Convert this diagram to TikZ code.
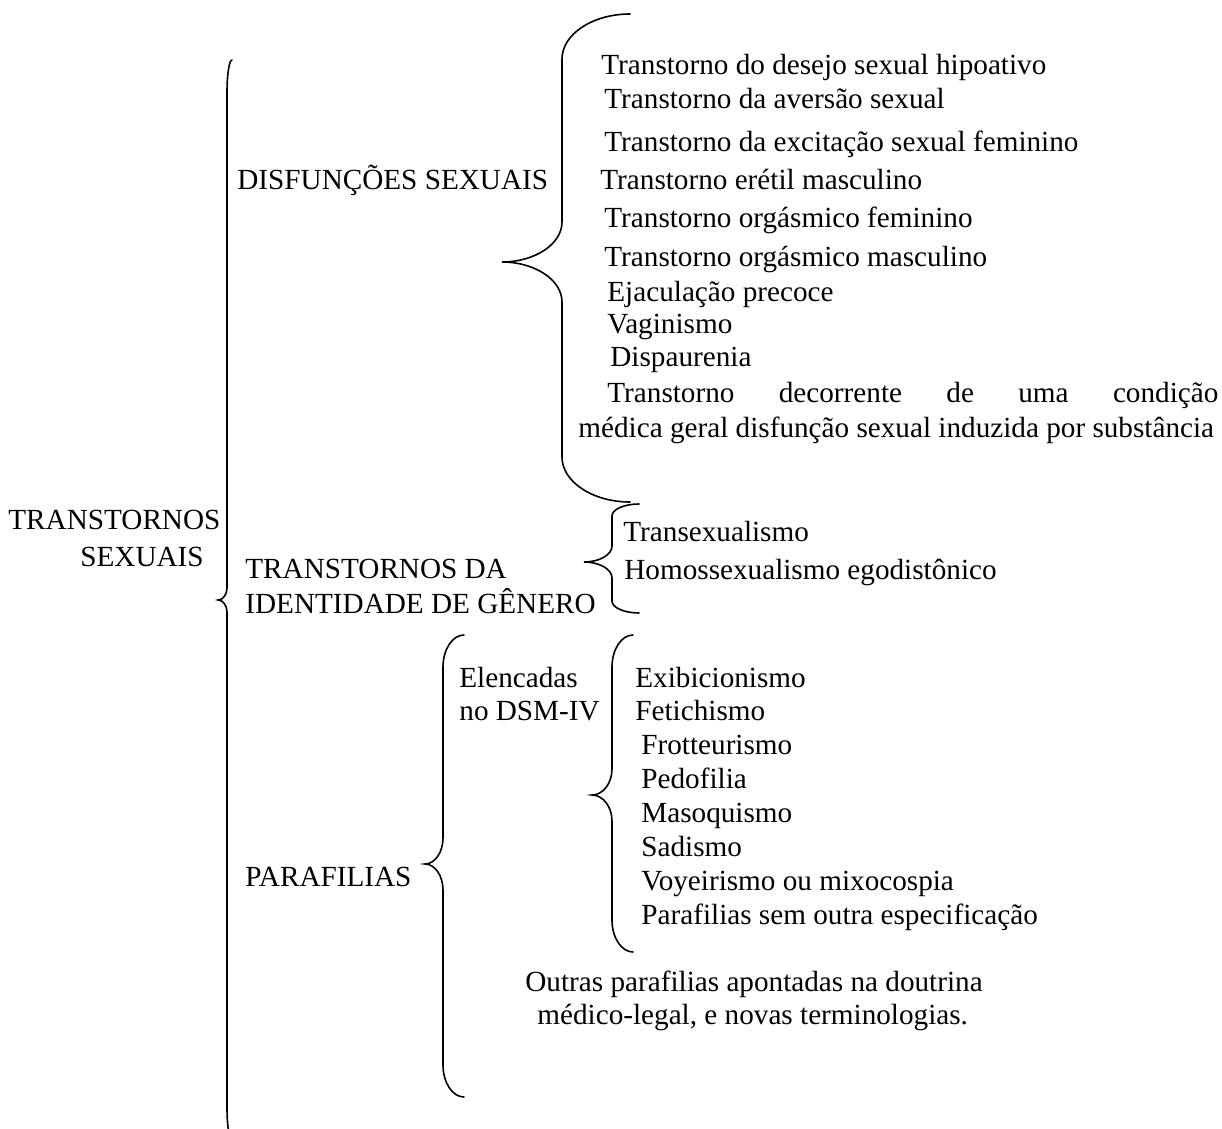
\documentclass[tikz,border=0pt]{standalone}
\usepackage{fontspec}
\setmainfont{Liberation Serif}

% brace: x of the stem, y top, y tip, y bottom, end width, corner height, tip width, tip half height
\newcommand{\chave}[8]{%
\draw[chaveline] (#1+#5,#2) .. controls (#1+0.45*#5,#2) and (#1,#2+0.45*#6) .. (#1,#2+#6)
  -- (#1,#3-#8) .. controls (#1,#3-0.45*#8) and (#1-0.45*#7,#3) .. (#1-#7,#3)
  .. controls (#1-0.45*#7,#3) and (#1,#3+0.45*#8) .. (#1,#3+#8)
  -- (#1,#4-#6) .. controls (#1,#4-0.45*#6) and (#1+0.45*#5,#4) .. (#1+#5,#4);}

\tikzset{
  rotulo/.style={anchor=west, inner sep=0pt, font=\fontsize{14.6}{17}\selectfont,
    text height=0.66em, text depth=0pt},
  chaveline/.style={line width=0.8pt, line cap=round}
}

\begin{document}
\begin{tikzpicture}[x=0.5pt,y=-0.5pt]
\useasboundingbox (0,0) rectangle (1222,1129);

% first level
\node[rotulo] (trans) at (8,523) {TRANSTORNOS};
\node[rotulo] (sexuais) at (80,560) {SEXUAIS};
\chave{227}{60}{600}{1140}{5}{32}{9}{12}

% second level
\node[rotulo] (disf) at (237,183) {DISFUNÇÕES SEXUAIS};
\node[rotulo] (ident1) at (245,572) {TRANSTORNOS DA};
\node[rotulo] (ident2) at (245,607) {IDENTIDADE DE GÊNERO};
\node[rotulo] (paraf) at (245,880) {PARAFILIAS};

% disfuncoes
\chave{562}{14}{262}{502}{68}{45}{60}{40}
\foreach \nome/\x/\y/\texto in {
  d1/601/68/Transtorno do desejo sexual hipoativo,
  d2/604/102/Transtorno da aversão sexual,
  d3/604/145/Transtorno da excitação sexual feminino,
  d4/600/183/Transtorno erétil masculino,
  d5/604/221/Transtorno orgásmico feminino,
  d6/604/260/Transtorno orgásmico masculino,
  d7/607/295/Ejaculação precoce,
  d8/607/327/Vaginismo,
  d9/610/360/Dispaurenia}
\node[rotulo] (\nome) at (\x,\y) {\texto};
\node[rotulo] (d10) at (607,396) {\makebox[305.5pt]{Transtorno\hfill decorrente\hfill de\hfill uma\hfill condição}};
\node[rotulo] (d11) at (578,431) {médica geral disfunção sexual induzida por substância};

% identidade de genero
\chave{612}{504}{562}{613}{27}{12}{28}{16}
\node[rotulo] (i1) at (623,535) {Transexualismo};
\node[rotulo] (i2) at (624,573) {Homossexualismo egodistônico};

% parafilias
\chave{443}{635}{864}{1097}{21}{32}{18}{26}
\node[rotulo] (elenc1) at (459,681) {Elencadas};
\node[rotulo] (elenc2) at (459,714) {no DSM-IV};
\chave{612}{635}{795}{952}{21}{32}{20}{26}
\foreach \nome/\x/\y/\texto in {
  p1/635/681/Exibicionismo,
  p2/635/714/Fetichismo,
  p3/641/748/Frotteurismo,
  p4/641/782/Pedofilia,
  p5/641/816/Masoquismo,
  p6/641/850/Sadismo,
  p7/641/884/Voyeirismo ou mixocospia,
  p8/641/918/Parafilias sem outra especificação}
\node[rotulo] (\nome) at (\x,\y) {\texto};
\node[rotulo] (outras1) at (525,985) {Outras parafilias apontadas na doutrina};
\node[rotulo] (outras2) at (537,1018) {médico-legal, e novas terminologias.};

\end{tikzpicture}
\end{document}
